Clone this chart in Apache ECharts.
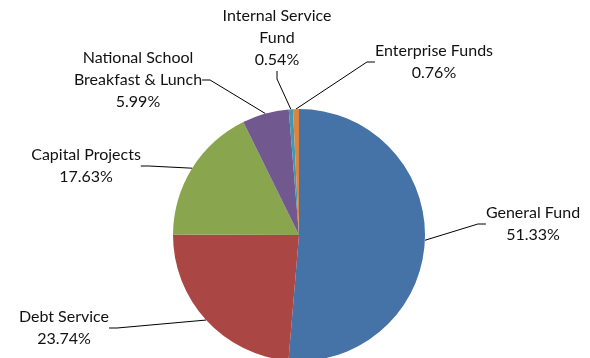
<!DOCTYPE html>
<html>
<head>
<meta charset="utf-8">
<script src="https://cdn.jsdelivr.net/npm/echarts@6/dist/echarts.min.js"></script>
<style>
  html, body { margin: 0; padding: 0; background: #fff; }
  #chart { width: 590px; height: 358px; }
</style>
</head>
<body>
<div id="chart"></div>
<script>
// fund names and their share of the total (%)
const funds = ['General Fund', 'Debt Service', 'Capital Projects', 'National School Breakfast & Lunch', 'Internal Service Fund', 'Enterprise Funds']
const labelText = ['General Fund', 'Debt Service', 'Capital Projects', 'National School\nBreakfast & Lunch', 'Internal Service\nFund', 'Enterprise Funds']
const shares = [51.33, 23.74, 17.63, 5.99, 0.54, 0.76]
const colors = ['#4572A7', '#AA4643', '#89A54E', '#71588F', '#4198AF', '#DB843D']

// where each label sits (center of the text block)
const labelPos = [[533, 224], [64, 328], [86, 166], [138, 80], [277, 38], [434, 62]]

const chart = echarts.init(document.getElementById('chart'))

const option = {
    animation: false,
    color: colors,
    series: [{
        type: 'pie',
        center: [299, 235],
        radius: 126,
        startAngle: 90,
        clockwise: true,
        avoidLabelOverlap: false,
        itemStyle: { borderWidth: 0 },
        label: {
            show: true,
            fontFamily: 'Lato',
            fontSize: 16,
            lineHeight: 22,
            color: '#111',
            align: 'center',
            formatter: p => labelText[p.dataIndex] + '\n' + p.value.toFixed(2) + '%'
        },
        labelLine: {
            show: true,
            length: 10,
            length2: 8,
            lineStyle: { color: '#000', width: 1 }
        },
        labelLayout: p => ({
            x: labelPos[p.dataIndex][0],
            y: labelPos[p.dataIndex][1],
            align: 'center',
            verticalAlign: 'middle'
        }),
        emphasis: { disabled: true },
        data: funds.map((name, i) => ({ name: name, value: shares[i] }))
    }]
}

chart.setOption(option)
</script>
</body>
</html>
